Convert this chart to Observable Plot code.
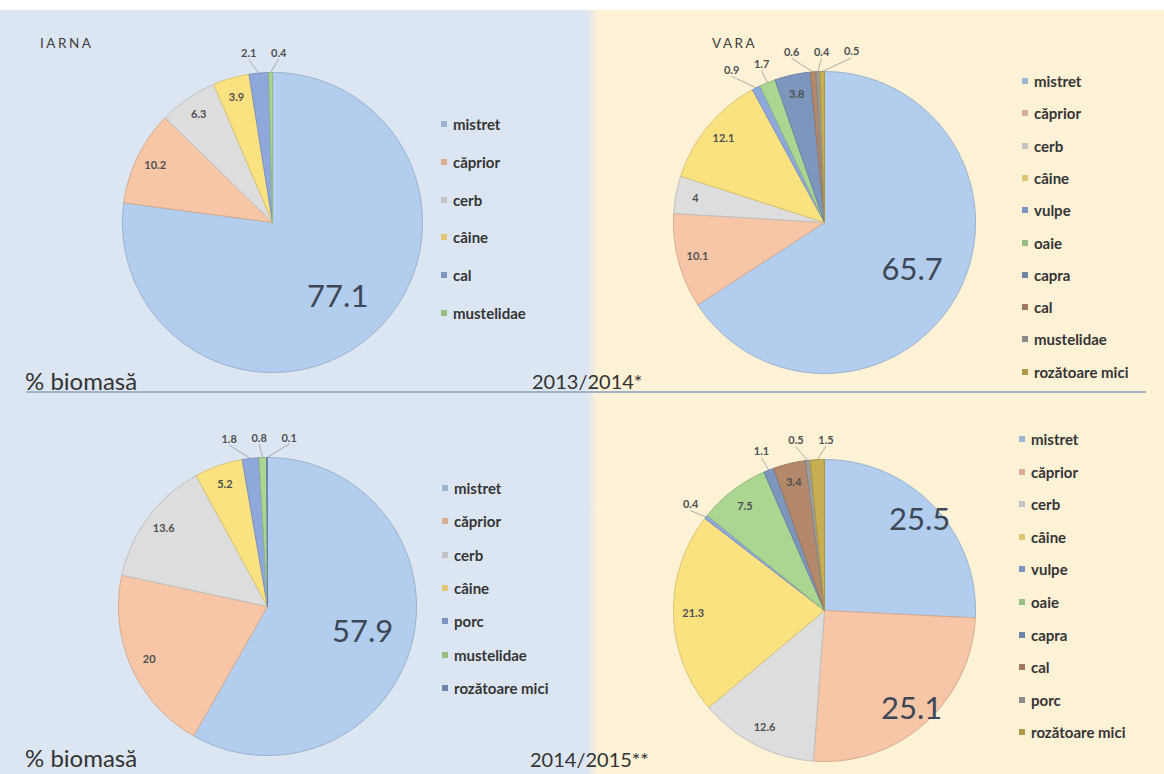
<!DOCTYPE html>
<html><head><meta charset="utf-8">
<script src="https://cdn.jsdelivr.net/npm/d3@7"></script>
<script src="https://cdn.jsdelivr.net/npm/@observablehq/plot@0.6"></script>
<style>
body{margin:0;background:#fff;}
#root{position:relative;width:1164px;height:774px;overflow:hidden;background:#fff;font-family:Lato,"Open Sans",sans-serif;}
#bg{position:absolute;left:0;top:10px;width:1164px;height:764px;background:linear-gradient(to right,#dce6f2 0,#dce6f2 587px,#fdf1d6 597px,#fdf1d6 100%);}
.sep{position:absolute;left:26px;top:391px;width:1120px;height:1.5px;background:#9fb2c6;}
.pie{position:absolute;}
.t{position:absolute;white-space:nowrap;color:#3a3a3a;line-height:1;}
.season{font-size:13.5px;letter-spacing:2.5px;color:#404040;font-weight:400;}
.big{font-size:24px;color:#333;}
.yr{font-size:20px;color:#333;}
.legend{position:absolute;}
.legend .row{position:absolute;left:0;display:flex;align-items:center;white-space:nowrap;font-size:15px;font-weight:700;color:#353535;}
.legend .sw{width:6px;height:6px;margin-right:6px;}
</style>
</head><body>
<div id="root"><div id="bg"></div><div class="sep"></div></div>
<script>
// ---- data ----
const catsWinter1 = ["mistret","căprior","cerb","câine","cal","mustelidae"];
const valsWinter1 = [77.1, 10.2, 6.3, 3.9, 2.1, 0.4];
const catsSummer1 = ["mistret","căprior","cerb","câine","vulpe","oaie","capra","cal","mustelidae","rozătoare mici"];
const valsSummer1 = [65.7, 10.1, 4, 12.1, 0.9, 1.7, 3.8, 0.6, 0.4, 0.5];
const catsWinter2 = ["mistret","căprior","cerb","câine","porc","mustelidae","rozătoare mici"];
const valsWinter2 = [57.9, 20, 13.6, 5.2, 1.8, 0.8, 0.1];
const catsSummer2 = ["mistret","căprior","cerb","câine","vulpe","oaie","capra","cal","porc","rozătoare mici"];
const valsSummer2 = [25.5, 25.1, 12.6, 21.3, 0.4, 7.5, 1.1, 3.4, 0.5, 1.5];
const palette = ["#b2cded","#f6c6a6","#dddddd","#fae281","#8fa8dc","#abd692","#7d96be","#b4896b","#9c9c9c","#c7ae52"];

const root = document.getElementById("root");

function addText(txt, cls, left, top) {
  const d = document.createElement("div");
  d.className = "t " + cls;
  d.style.left = left + "px"; d.style.top = top + "px";
  d.textContent = txt;
  root.appendChild(d);
}

function addLegend(cats, left, top, step) {
  const lg = document.createElement("div");
  lg.className = "legend";
  lg.style.left = left + "px"; lg.style.top = top + "px";
  cats.forEach((c, i) => {
    const r = document.createElement("div");
    r.className = "row";
    r.style.top = (i * step - 9) + "px";
    r.style.height = "18px";
    const sw = document.createElement("span");
    sw.className = "sw"; sw.style.background = d3.color(palette[i]).darker(0.35).formatHex();
    const tx = document.createElement("span"); tx.textContent = c;
    r.appendChild(sw); r.appendChild(tx);
    lg.appendChild(r);
  });
  root.appendChild(lg);
}

function addPie(cats, vals, cx, cy, R) {
  const S = 200;            // half size of svg in px
  const D = S / R;          // half domain in radius units
  const total = d3.sum(vals);
  let cum = 0;
  const slices = cats.map((c, i) => {
    const a0 = cum / total * 2 * Math.PI; cum += vals[i];
    const a1 = cum / total * 2 * Math.PI;
    return {cat: c, value: vals[i], i, a0, a1, mid: (a0 + a1) / 2, share: vals[i] / total};
  });
  const pts = [];
  for (const s of slices) {
    const col = palette[s.i];
    const edge = d3.color(col).darker(0.4).formatHex();
    const base = {cat: s.cat, col, edge};
    pts.push({...base, x: 0, y: 0});
    const n = Math.max(2, Math.ceil((s.a1 - s.a0) / (Math.PI / 180)));
    for (let k = 0; k <= n; k++) {
      const a = s.a0 + (s.a1 - s.a0) * k / n;
      pts.push({...base, x: Math.sin(a), y: Math.cos(a)});
    }
    pts.push({...base, x: 0, y: 0});
  }
  // labels
  const inside = [], outside = [];
  for (const s of slices) {
    if (s.share >= 0.025) {
      const r = s.share > 0.5 ? 0.66 : 0.87;
      inside.push({txt: String(s.value), x: Math.sin(s.mid) * r, y: Math.cos(s.mid) * r, big: s.value >= 25});
    } else {
      const r = 1.13;
      outside.push({txt: String(s.value), px: Math.sin(s.mid) * r * R, py: Math.cos(s.mid) * r * R,
                    ax: Math.sin(s.mid), ay: Math.cos(s.mid)});
    }
  }
  // simple horizontal collision resolution (px space)
  const gap = 30;
  for (let it = 0; it < 200; it++) {
    outside.sort((a, b) => a.px - b.px);
    for (let k = 0; k < outside.length - 1; k++) {
      const a = outside[k], b = outside[k + 1];
      if (Math.abs(a.py - b.py) < 14 && b.px - a.px < gap) {
        const push = (gap - (b.px - a.px)) / 2;
        a.px -= push; b.px += push;
      }
    }
  }
  const outLabels = outside.map(o => ({txt: o.txt, x: o.px / R, y: o.py / R}));
  const leaders = outside.map(o => ({x1: o.px / R, y1: (o.py - 6) / R, x2: o.ax, y2: o.ay}));

  const plot = Plot.plot({
    width: 2 * S, height: 2 * S, margin: 0,
    x: {domain: [-D, D], axis: null},
    y: {domain: [-D, D], axis: null},
    color: {type: "identity"},
    style: {background: "transparent", overflow: "visible", fontFamily: "Lato, 'Open Sans', sans-serif"},
    marks: [
      Plot.line(pts, {x: "x", y: "y", z: "cat", fill: "col", stroke: "edge", strokeWidth: 1, curve: "linear", strokeLinejoin: "round"}),
      Plot.link(leaders, {x1: "x1", y1: "y1", x2: "x2", y2: "y2", stroke: "#9a9a9a", strokeWidth: 0.8}),
      Plot.text(inside.filter(d => !d.big), {x: "x", y: "y", text: "txt", fontSize: 11, fontWeight: 700, fill: "#505050"}),
      Plot.text(inside.filter(d => d.big), {x: "x", y: "y", text: "txt", fontSize: 31, fill: "#3d4756"}),
      Plot.text(outLabels, {x: "x", y: "y", text: "txt", fontSize: 11, fontWeight: 700, fill: "#505050"})
    ]
  });
  const wrap = document.createElement("div");
  wrap.className = "pie";
  wrap.style.left = (cx - S) + "px"; wrap.style.top = (cy - S) + "px";
  wrap.appendChild(plot);
  root.appendChild(wrap);
}

addPie(catsWinter1, valsWinter1, 272, 222, 150);
addPie(catsSummer1, valsSummer1, 824, 222, 151);
addPie(catsWinter2, valsWinter2, 267, 606, 149);
addPie(catsSummer2, valsSummer2, 824, 610, 151);

addLegend(catsWinter1, 441, 124, 37.8);
addLegend(catsSummer1, 1022, 81, 32.3);
addLegend(catsWinter2, 442, 488, 33.3);
addLegend(catsSummer2, 1019, 439, 32.6);

addText("IARNA", "season", 40, 37);
addText("VARA", "season", 712, 37);
addText("% biomasă", "big", 25, 369);
addText("2013/2014*", "yr", 532, 371);
addText("% biomasă", "big", 25, 746);
addText("2014/2015**", "yr", 530, 749);
</script>
</body></html>
